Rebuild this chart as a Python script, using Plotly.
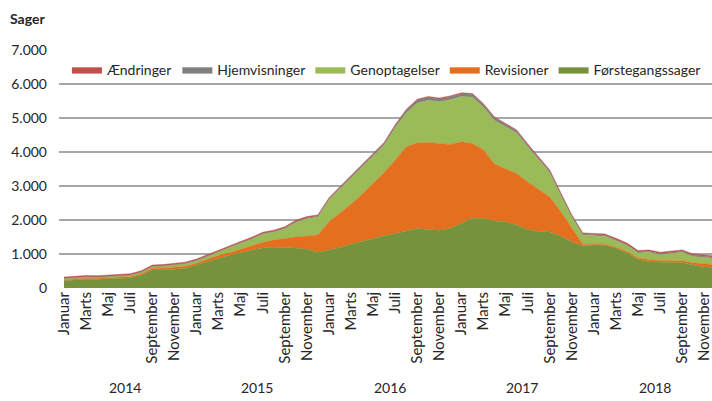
import plotly.graph_objects as go

# måneder jan 2014 - dec 2018
maaneder = ["Januar", "Februar", "Marts", "April", "Maj", "Juni",
            "Juli", "August", "September", "Oktober", "November", "December"]
aar = ["2014", "2015", "2016", "2017", "2018"]

foerstegang = [215, 240, 255, 260, 265, 280, 300, 380, 530, 530, 550, 580,
               680, 775, 880, 960, 1040, 1120, 1180, 1195, 1195, 1180, 1140, 1050,
               1120, 1190, 1290, 1380, 1470, 1540, 1600, 1680, 1750, 1720, 1700, 1760,
               1900, 2050, 2050, 1970, 1950, 1850, 1720, 1660, 1650, 1520, 1360, 1240,
               1265, 1260, 1170, 1030, 840, 775, 760, 745, 745, 680, 620, 610]
revisioner = [30, 35, 35, 30, 35, 40, 40, 40, 50, 60, 60, 60,
              50, 65, 80, 80, 100, 130, 160, 215, 265, 320, 390, 510,
              830, 1010, 1170, 1380, 1600, 1860, 2160, 2470, 2520, 2560, 2550, 2460,
              2400, 2200, 2010, 1680, 1550, 1520, 1400, 1240, 1030, 730, 390, 50,
              25, 30, 30, 40, 40, 55, 50, 55, 55, 60, 80, 70]
genoptagelser = [30, 30, 30, 25, 30, 30, 35, 40, 50, 55, 70, 75,
                 70, 90, 120, 165, 175, 185, 245, 235, 280, 430, 510, 530,
                 640, 715, 770, 785, 800, 795, 950, 1000, 1170, 1240, 1230, 1320,
                 1330, 1360, 1255, 1280, 1245, 1190, 1035, 870, 715, 480, 335, 270,
                 240, 230, 190, 180, 150, 220, 170, 220, 250, 190, 190, 190]
hjemvisninger = [10, 10, 10, 10, 10, 10, 10, 10, 10, 10, 10, 10,
                 15, 15, 15, 20, 20, 20, 20, 20, 25, 25, 25, 25,
                 30, 35, 40, 45, 50, 55, 60, 70, 80, 80, 80, 80,
                 80, 80, 75, 70, 65, 60, 55, 50, 45, 40, 35, 30,
                 30, 30, 30, 30, 30, 30, 30, 30, 30, 30, 30, 30]
aendringer = [35, 35, 35, 35, 35, 35, 35, 35, 35, 35, 35, 35,
              35, 35, 35, 35, 35, 35, 35, 35, 35, 35, 35, 35,
              30, 30, 30, 30, 30, 30, 30, 30, 30, 30, 30, 30,
              30, 30, 30, 30, 30, 30, 30, 30, 30, 30, 30, 30,
              40, 40, 40, 40, 40, 40, 40, 40, 40, 40, 40, 40]

x = list(range(len(foerstegang)))
font = "Lato, 'Open Sans', sans-serif"

serier = [
    ("Førstegangssager", foerstegang, "#76923C"),
    ("Revisioner", revisioner, "#E46F1E"),
    ("Genoptagelser", genoptagelser, "#9BBB59"),
    ("Hjemvisninger", hjemvisninger, "#7F7F7F"),
    ("Ændringer", aendringer, "#C0504D"),
]

fig = go.Figure()
for navn, vaerdier, farve in serier:
    fig.add_trace(go.Scatter(
        x=x, y=vaerdier, name=navn, mode="lines",
        stackgroup="one", line=dict(width=0.5, color=farve),
        fillcolor=farve))

tickvals = [i for i in x if i % 2 == 0]
ticktext = [maaneder[i % 12] for i in tickvals]

fig.update_layout(
    width=712, height=401,
    margin=dict(l=59, r=0, t=50, b=113, autoexpand=False),
    paper_bgcolor="white", plot_bgcolor="white",
    separators=",.",
    font=dict(family=font, size=14, color="#262626"),
    showlegend=True,
    legend=dict(orientation="h", traceorder="reversed",
                xref="container", x=0.094, xanchor="left",
                yref="paper", y=0.916, yanchor="middle",
                bgcolor="rgba(255,255,255,0)", font=dict(size=14),
                itemwidth=30),
    xaxis=dict(range=[-0.45, 58.7], tickvals=tickvals, ticktext=ticktext,
               tickangle=-90, showgrid=False, zeroline=False, automargin=False,
               ticks="", ticklabeloverflow="allow", tickfont=dict(size=15)),
    yaxis=dict(range=[0, 7000], dtick=1000, tickformat=",d", automargin=False,
               showgrid=True, gridcolor="#A6A6A6", gridwidth=1.5,
               zeroline=False, ticks="", ticklabelstandoff=11,
               tickfont=dict(size=14)),
)

fig.add_annotation(text="<b>Sager</b>", xref="paper", yref="paper",
                   x=-0.078, y=1.134, xanchor="left", yanchor="middle",
                   showarrow=False, font=dict(size=14, color="#262626"))

for k, a in enumerate(aar):
    fig.add_annotation(text=a, xref="x", yref="paper",
                       x=12 * k + 5.5, y=-0.42, yanchor="middle",
                       showarrow=False, font=dict(size=14))

fig.write_html("out.html", config={"displayModeBar": False},
               post_script="document.body.style.margin='0px';")
